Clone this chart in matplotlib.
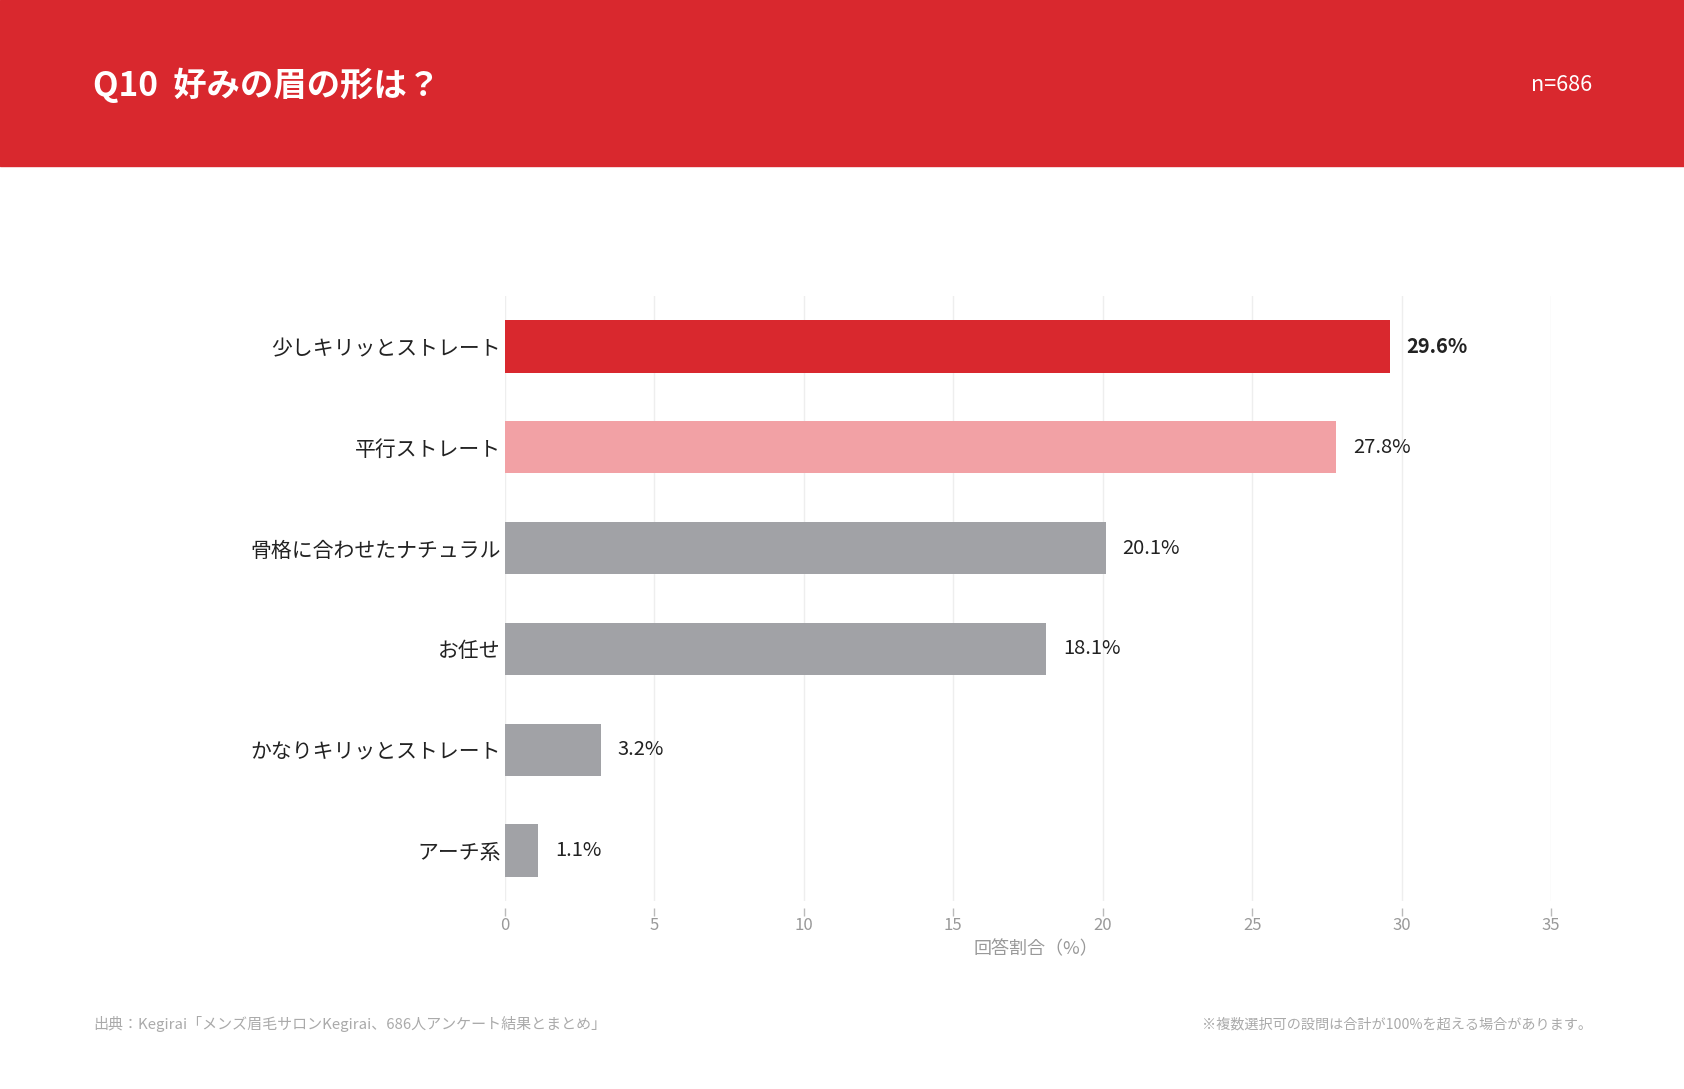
import matplotlib
matplotlib.use('Agg')
import matplotlib.pyplot as plt
from matplotlib.patches import Rectangle

plt.rcParams['font.family'] = ['Noto Sans CJK JP', 'DejaVu Sans']

# Data
categories = ['少しキリッとストレート', '平行ストレート', '骨格に合わせたナチュラル',
              'お任せ', 'かなりキリッとストレート', 'アーチ系']
values = [29.6, 27.8, 20.1, 18.1, 3.2, 1.1]
bar_colors = ['#D9282E', '#F2A1A5', '#A1A2A6', '#A1A2A6', '#A1A2A6', '#A1A2A6']
xticks = [0, 5, 10, 15, 20, 25, 30, 35]

title = 'Q10  好みの眉の形は？'
n_text = 'n=686'
x_label = '回答割合（%）'
source = '出典：Kegirai「メンズ眉毛サロンKegirai、686人アンケート結果とまとめ」'
note = '※複数選択可の設問は合計が100%を超える場合があります。'

W, H = 1684, 1089
fig = plt.figure(figsize=(W / 100, H / 100), dpi=100)
fig.patch.set_facecolor('white')

# Red header band
header_h = 165.5
fig.patches.append(Rectangle((0, 1 - header_h / H), 1, header_h / H,
                             transform=fig.transFigure, color='#D9282E', zorder=0))
fig.text(93 / W, 1 - 85 / H, title, color='white', fontsize=24,
         fontweight='bold', va='center', ha='left')
fig.text(1592 / W, 1 - 85 / H, n_text, color='white', fontsize=15.5,
         va='center', ha='right')

# Chart area
left, right, top, bottom = 505, 1551, 296, 901
ax = fig.add_axes([left / W, 1 - bottom / H, (right - left) / W, (bottom - top) / H])
y = list(range(len(categories)))
ax.barh(y, values, height=0.52, color=bar_colors, zorder=2)
ax.set_ylim(len(categories) - 0.5, -0.5)
ax.set_xlim(0, 35)
ax.set_xticks(xticks)
ax.set_xticklabels([str(t) for t in xticks])
ax.set_yticks(y)
ax.set_yticklabels(categories, fontsize=15, color='#222222')

for s in ['top', 'right', 'left']:
    ax.spines[s].set_visible(False)
ax.spines['bottom'].set_position(('outward', 5))
ax.spines['bottom'].set_visible(False)

ax.tick_params(axis='y', length=0, pad=3)
ax.tick_params(axis='x', length=6, width=1, color='#BBBBBB', labelcolor='#999999',
               labelsize=12, pad=0.5)
ax.grid(axis='x', color='#EEEEEE', linewidth=1, zorder=0)
ax.set_axisbelow(True)
ax.set_xlabel(x_label, fontsize=13, color='#999999')
ax.xaxis.set_label_coords(0.508, -0.065)

for i, v in enumerate(values):
    ax.annotate(f'{v:.1f}%', (v, i), xytext=(17, 0), textcoords='offset pixels',
                va='center', ha='left', fontsize=14.5, color='#222222',
                fontweight='bold' if i == 0 else 'normal')

# Footer
fig.text(93 / W, 1 - 1024 / H, source, color='#AAAAAA', fontsize=10.8,
         va='center', ha='left')
fig.text(1592 / W, 1 - 1024 / H, note, color='#AAAAAA', fontsize=10.2,
         va='center', ha='right')

fig.savefig('out.png', dpi=100, facecolor='white')
